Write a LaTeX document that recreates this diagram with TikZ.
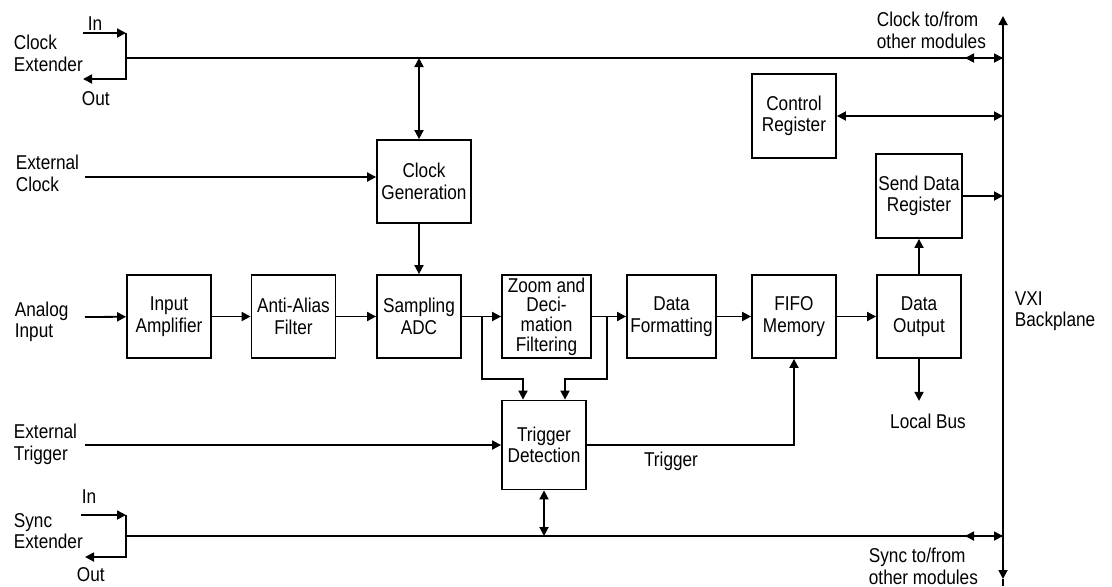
\documentclass[tikz,border=0pt]{standalone}
\usepackage{fontspec}
\setmainfont{Liberation Sans}[FakeStretch=0.86]
\usepackage{tikz}
\usetikzlibrary{arrows.meta,calc}

\begin{document}
\begin{tikzpicture}[x=0.5pt, y=-0.5pt,
        font=\fontsize{10}{10.8}\selectfont,
        >={Triangle[length=4.5pt,width=4.5pt]},
        every path/.style={line width=0.9pt},
        blk/.style={draw, line width=0.9pt, align=center, inner sep=1pt,
            minimum width=42pt, minimum height=41.5pt},
        wblk/.style={blk, minimum width=44.5pt},
        lbl/.style={align=left, anchor=west, inner sep=0pt}]
        \useasboundingbox (0,0) rectangle (1112,586);

        \node[blk] (amp) at (169, 316.5) {Input\\Amplifier};
        \node[blk] (aaf) at (293.5, 316.5) {Anti-Alias\\Filter};
        \node[blk] (adc) at (419, 316.5) {Sampling\\ADC};
        \node[wblk, font=\fontsize{10}{9.8}\selectfont] (zoom) at (546.5, 316.5) {Zoom and\\Deci-\\mation\\Filtering};
        \node[wblk] (fmt) at (671.5, 316.5) {Data\\Formatting};
        \node[blk] (fifo) at (794, 316.5) {FIFO\\Memory};
        \node[blk] (dout) at (919, 316.5) {Data\\Output};

        \node[blk, minimum width=47pt] (clkgen) at (424, 181.5) {Clock\\Generation};
        \node[blk, minimum height=42pt] (ctrl) at (794, 116) {Control\\Register};
        \node[blk, minimum height=42pt] (sdr) at (919, 196) {Send Data\\Register};
        \node[blk, minimum height=44.5pt] (trig) at (544, 445) {Trigger\\Detection};

        \node[lbl] (clkext) at (13, 53.5) {Clock\\Extender};
        \node[lbl] (clkin) at (87, 23.5) {In};
        \node[lbl] (clkout) at (81, 99) {Out};
        \node[lbl] (extclk) at (15, 173.5) {External\\Clock};
        \node[lbl] (analog) at (14, 322) {Analog\\Input};
        \node[lbl] (exttrg) at (13, 444.5) {External\\Trigger};
        \node[lbl] (syncext) at (13, 531) {Sync\\Extender};
        \node[lbl] (syncin) at (81, 497) {In};
        \node[lbl] (syncout) at (76, 575) {Out};
        \node[lbl] (clkmod) at (876, 30.5) {Clock to/from\\other modules};
        \node[lbl] (syncmod) at (868, 566.5) {Sync to/from\\other modules};
        \node[lbl] (vxi) at (1014, 311) {VXI\\Backplane};
        \node (lbus) at (928, 421) {Local Bus};
        \node (trglbl) at (671, 461) {Trigger};

        \coordinate (c1) at (83, 33);
        \coordinate (c2) at (126, 33);
        \coordinate (c3) at (126, 79);
        \coordinate (c4) at (83, 79);
        \coordinate (c5) at (126, 58);
        \coordinate (c6) at (965, 58);
        \coordinate (c7) at (419, 58);

        \coordinate (s1) at (81, 515);
        \coordinate (s2) at (126, 515);
        \coordinate (s3) at (126, 557);
        \coordinate (s4) at (85, 557);
        \coordinate (s5) at (126, 536);
        \coordinate (s6) at (965, 536);

        \coordinate (bptop) at (1003, 16);
        \coordinate (bpbot) at (1003, 579);
        \coordinate (ck) at (1003, 58);
        \coordinate (sy) at (1003, 536);

        \coordinate (ain) at (85, 317);
        \coordinate (eck) at (85, 177);
        \coordinate (etr) at (85, 445);
        \coordinate (br1) at (482, 317);
        \coordinate (br2) at (607, 317);

        \draw[<->] (bptop) -- (bpbot);
        \draw (bpbot) -- (1003, 586);

        \draw[->] (c1) -- (c2);
        \draw[->] (c2) -- (c3) -- (c4);
        \draw (c5) -- (ck);
        \draw[<->] (c6) -- (ck);
        \draw[<->] (c7) -- (c7 |- clkgen.north);
        \draw[->] (c7 |- clkgen.south) -- (adc.north);
        \draw[->] (eck) -- (eck -| clkgen.west);

        \draw[->] (s1) -- (s2);
        \draw[->] (s2) -- (s3) -- (s4);
        \draw (s5) -- (sy);
        \draw[<->] (s6) -- (sy);
        \draw[<->] (trig.south) -- (trig.south |- s5);

        \draw[->] (ain) -- (amp);
        \draw[->] (amp) -- (aaf);
        \draw[->] (aaf) -- (adc);
        \draw[->] (adc) -- (zoom);
        \draw[->] (zoom) -- (fmt);
        \draw[->] (fmt) -- (fifo);
        \draw[->] (fifo) -- (dout);
        \draw[->] (dout) -- (sdr);
        \draw[->] (dout.south) -- ++(0, 42);

        \draw[->] (br1) -- ++(0, 62) -| ($(trig.north)+(-21, 0)$);
        \draw[->] (br2) -- ++(0, 62) -| ($(trig.north)+(21, 0)$);
        \draw[->] (etr) -- (trig.west);
        \draw[->] (trig.east) -| (fifo.south);

        \draw[<->] (ctrl.east) -- (ctrl.east -| ck);
        \draw[->] (sdr.east) -- (sdr.east -| ck);
    \end{tikzpicture}
\end{document}
